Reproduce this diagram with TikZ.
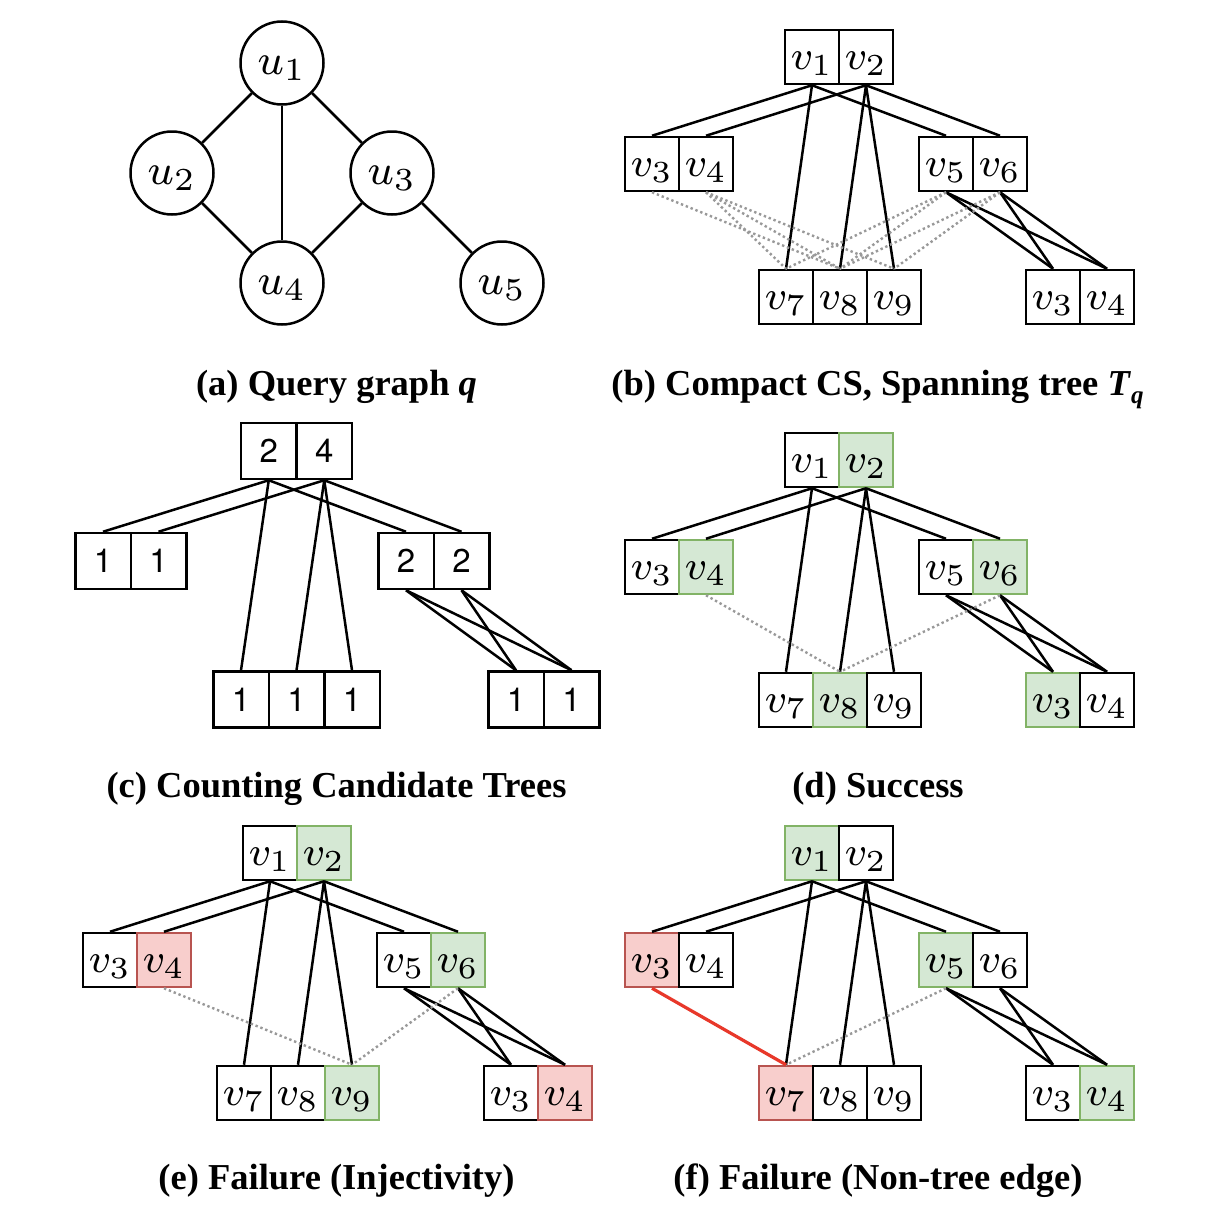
\documentclass[tikz,border=0pt]{standalone}
\usepackage{fontspec}
\setmainfont{Liberation Serif}
\newfontfamily\helv{TeX Gyre Heros}
\definecolor{okfill}{HTML}{D5E8D4}
\definecolor{okdraw}{HTML}{82B366}
\definecolor{badfill}{HTML}{F8CECC}
\definecolor{baddraw}{HTML}{B85450}
\definecolor{rededge}{HTML}{E8382A}
\definecolor{dotgray}{HTML}{999999}
% label: scale, lowering, math
\newcommand\mylab[3]{\raisebox{#2}[0pt][0pt]{\scalebox{#1}{\fontsize{8}{10}\selectfont$#3$}}}
\newcommand\vl[1]{\mylab{5.1}{-12.8pt}{v_{#1}}}
\newcommand\ul[1]{\mylab{5.35}{-11.5pt}{u_{#1}}}
\tikzset{
  cell/.style={draw=black, line width=2.5pt, minimum width=54pt, minimum height=54pt, inner sep=0pt},
  ccell/.style={draw=black, line width=2.5pt, minimum width=55.5pt, minimum height=56pt, inner sep=0pt, font=\helv\fontsize{33}{38}\selectfont},
  ok/.style={fill=okfill, draw=okdraw},
  bad/.style={fill=badfill, draw=baddraw},
  tree/.style={line width=2.5pt},
  nt/.style={line width=2.4pt, draw=dotgray, dash pattern=on 2.4pt off 2.8pt},
  miss/.style={line width=3.2pt, draw=rededge},
  qv/.style={circle, draw, line width=2.5pt, minimum size=83pt, inner sep=0pt},
  captxt/.style={anchor=base, font=\bfseries\fontsize{36.5}{42}\selectfont}
}
\newcommand\cstree[4]{%
\begin{scope}[shift={(#2,#3)}, c1/.style={}, c2/.style={}, c3/.style={}, c4/.style={}, c5/.style={}, c6/.style={}, c7/.style={}, c8/.style={}, c9/.style={}, c10/.style={}, c11/.style={}, #4]
\node[cell,c1] (#1v1) at (812,57) {\vl{1}};
\node[cell,c2] (#1v2) at (866,57) {\vl{2}};
\node[cell,c3] (#1v3) at (652,164) {\vl{3}};
\node[cell,c4] (#1v4) at (706,164) {\vl{4}};
\node[cell,c5] (#1v5) at (946,164) {\vl{5}};
\node[cell,c6] (#1v6) at (1000,164) {\vl{6}};
\node[cell,c7] (#1v7) at (786,297) {\vl{7}};
\node[cell,c8] (#1v8) at (840,297) {\vl{8}};
\node[cell,c9] (#1v9) at (894,297) {\vl{9}};
\node[cell,c10] (#1w3) at (1053,297) {\vl{3}};
\node[cell,c11] (#1w4) at (1107,297) {\vl{4}};
\draw[tree] (#1v1.south) -- (#1v3.north);
\draw[tree] (#1v2.south) -- (#1v4.north);
\draw[tree] (#1v1.south) -- (#1v5.north);
\draw[tree] (#1v2.south) -- (#1v6.north);
\draw[tree] (#1v1.south) -- (#1v7.north);
\draw[tree] (#1v2.south) -- (#1v8.north);
\draw[tree] (#1v2.south) -- (#1v9.north);
\draw[tree] (#1v5.south) -- (#1w3.north);
\draw[tree] (#1v5.south) -- (#1w4.north);
\draw[tree] (#1v6.south) -- (#1w3.north);
\draw[tree] (#1v6.south) -- (#1w4.north);
\end{scope}}
\begin{document}
\begin{tikzpicture}[x=1pt,y=-1pt]
\useasboundingbox[fill=white] (0,0) rectangle (1208,1210);
% (a) query graph
\node[qv] (u1) at (282,63) {\ul{1}};
\node[qv] (u2) at (172,173) {\ul{2}};
\node[qv] (u3) at (392,173) {\ul{3}};
\node[qv] (u4) at (282,283) {\ul{4}};
\node[qv] (u5) at (502,283) {\ul{5}};
\draw[tree] (u1) -- (u2);
\draw[tree] (u1) -- (u4);
\draw[tree] (u1) -- (u3);
\draw[tree] (u2) -- (u4);
\draw[tree] (u3) -- (u4);
\draw[tree] (u3) -- (u5);
\node[captxt] (capa) at (336.5,395) {(a) Query graph \textit{q}};
% (b) compact CS
\cstree{b}{0}{0}{}
\draw[nt] (bv3.south) -- (bv8.north);
\draw[nt] (bv4.south) -- (bv7.north);
\draw[nt] (bv4.south) -- (bv8.north);
\draw[nt] (bv4.south) -- (bv9.north);
\draw[nt] (bv5.south) -- (bv7.north);
\draw[nt] (bv5.south) -- (bv8.north);
\draw[nt] (bv6.south) -- (bv8.north);
\draw[nt] (bv6.south) -- (bv9.north);
\node[captxt] (capb) at (877.5,395) {(b) Compact CS, Spanning tree \textit{T}\raisebox{-0.22em}{\fontsize{25}{28}\selectfont\textit{q}}};
% (c) counting
\node[ccell] (c1) at (268.75,451) {2};
\node[ccell] (c2) at (324.25,451) {4};
\node[ccell] (c3) at (103,561) {1};
\node[ccell] (c4) at (158.5,561) {1};
\node[ccell] (c5) at (406,561) {2};
\node[ccell] (c6) at (461.5,561) {2};
\node[ccell] (c7) at (241,699.5) {1};
\node[ccell] (c8) at (296.5,699.5) {1};
\node[ccell] (c9) at (352,699.5) {1};
\node[ccell] (c10) at (516,699.5) {1};
\node[ccell] (c11) at (571.5,699.5) {1};
\draw[tree] (c1.south) -- (c3.north);
\draw[tree] (c2.south) -- (c4.north);
\draw[tree] (c1.south) -- (c5.north);
\draw[tree] (c2.south) -- (c6.north);
\draw[tree] (c1.south) -- (c7.north);
\draw[tree] (c2.south) -- (c8.north);
\draw[tree] (c2.south) -- (c9.north);
\draw[tree] (c5.south) -- (c10.north);
\draw[tree] (c5.south) -- (c11.north);
\draw[tree] (c6.south) -- (c10.north);
\draw[tree] (c6.south) -- (c11.north);
\node[captxt] (capc) at (336.5,797) {(c) Counting Candidate Trees};
% (d) success
\cstree{d}{0}{403}{c2/.style=ok, c4/.style=ok, c6/.style=ok, c8/.style=ok, c10/.style=ok}
\draw[nt] (dv4.south) -- (dv8.north);
\draw[nt] (dv6.south) -- (dv8.north);
\node[captxt] (capd) at (878,797) {(d) Success};
% (e) injectivity
\cstree{e}{-542}{796}{c2/.style=ok, c4/.style=bad, c6/.style=ok, c9/.style=ok, c11/.style=bad}
\draw[nt] (ev4.south) -- (ev9.north);
\draw[nt] (ev6.south) -- (ev9.north);
\node[captxt] (cape) at (336.5,1189) {(e) Failure (Injectivity)};
% (f) non-tree edge
\cstree{f}{0}{796}{c1/.style=ok, c3/.style=bad, c5/.style=ok, c7/.style=bad, c11/.style=ok}
\draw[nt] (fv5.south) -- (fv7.north);
\draw[miss] (fv3.south) -- (fv7.north);
\node[captxt] (capf) at (878,1189) {(f) Failure (Non-tree edge)};
\end{tikzpicture}
\end{document}
